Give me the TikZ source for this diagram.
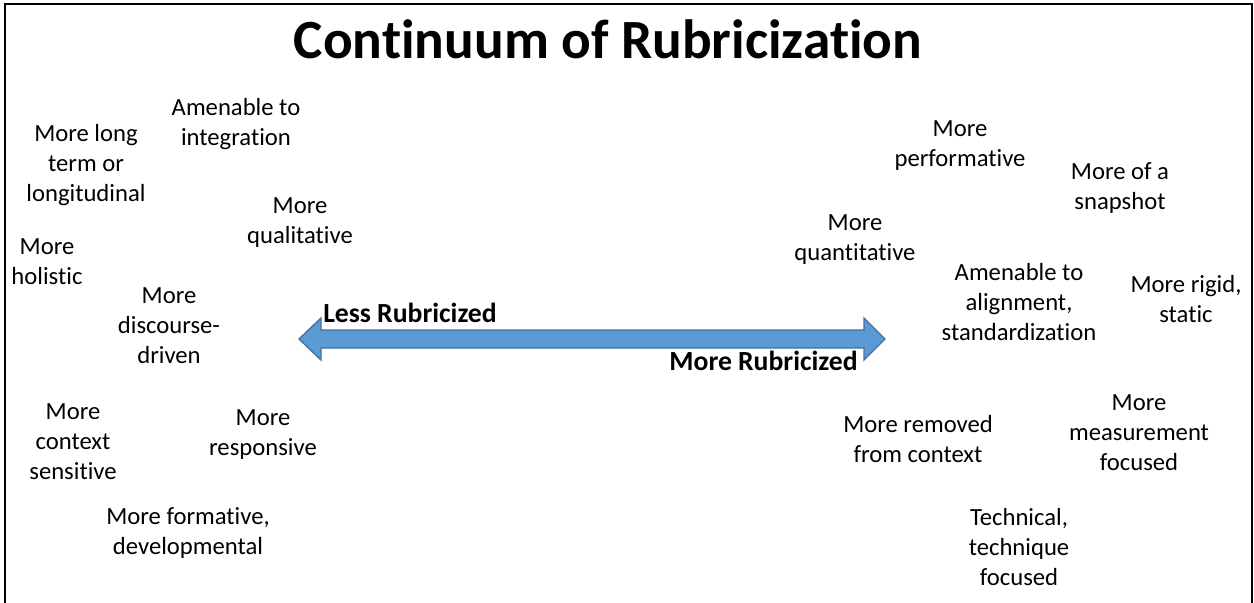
\documentclass[tikz,border=0pt]{standalone}
\usepackage{fontspec}
\setmainfont{Carlito}[Ligatures=NoCommon]
\definecolor{arrfill}{RGB}{91,155,213}
\definecolor{arrline}{RGB}{65,113,156}
\tikzset{tx/.style = {align=center, inner sep=0pt, yshift=-1.5pt, font=\fontsize{18.5}{22.5}\selectfont},
         tt/.style = {inner sep=0pt, font=\fontsize{41.5}{50}\selectfont\bfseries},
         lb/.style = {inner sep=0pt, font=\fontsize{20.75}{25}\selectfont\bfseries}}

\begin{document}
\begin{tikzpicture}[x=0.75pt, y=-0.75pt]
    \useasboundingbox (0,0) rectangle (1254,603);
    \draw[line width=1.5pt] (5,603) -- (5,4) -- (1252,4) -- (1252,603);
    \node[tt] (title) at (608,39) {Continuum of Rubricization};
    % the continuum
    \draw[arrline, fill=arrfill, line width=1pt] (299,339) -- (321,318) -- (321,330) -- (864,330)
        -- (864,318) -- (885,339) -- (864,360) -- (864,348) -- (321,348) -- (321,360) -- cycle;
    \node[lb, anchor=west] (less) at (323,313) {Less Rubricized};
    \node[lb, anchor=east] (more) at (858,361) {More Rubricized};
    % less rubricized side
    \node[tx] (longterm) at (86,163) {More long\\term or\\longitudinal};
    \node[tx] (integ) at (236,122) {Amenable to\\integration};
    \node[tx] (qual) at (300,221) {More\\qualitative};
    \node[tx] (holist) at (47,260) {More\\holistic};
    \node[tx] (discourse) at (169,324) {More\\discourse-\\driven};
    \node[tx] (context) at (73,440) {More\\context\\sensitive};
    \node[tx] (respons) at (263,433) {More\\responsive};
    \node[tx] (format) at (188,531) {More formative,\\developmental};
    % more rubricized side
    \node[tx] (perform) at (960,144) {More\\performative};
    \node[tx] (snap) at (1120,186) {More of a\\snapshot};
    \node[tx] (quant) at (855,238) {More\\quantitative};
    \node[tx] (align) at (1019,300) {Amenable to\\alignment,\\standardization};
    \node[tx] (rigid) at (1186,297) {More rigid,\\static};
    \node[tx] (removed) at (918,437) {More removed\\from context};
    \node[tx] (measure) at (1139,431) {More\\measurement\\focused};
    \node[tx] (tech) at (1019,545) {Technical,\\technique\\focused};
\end{tikzpicture}
\end{document}
